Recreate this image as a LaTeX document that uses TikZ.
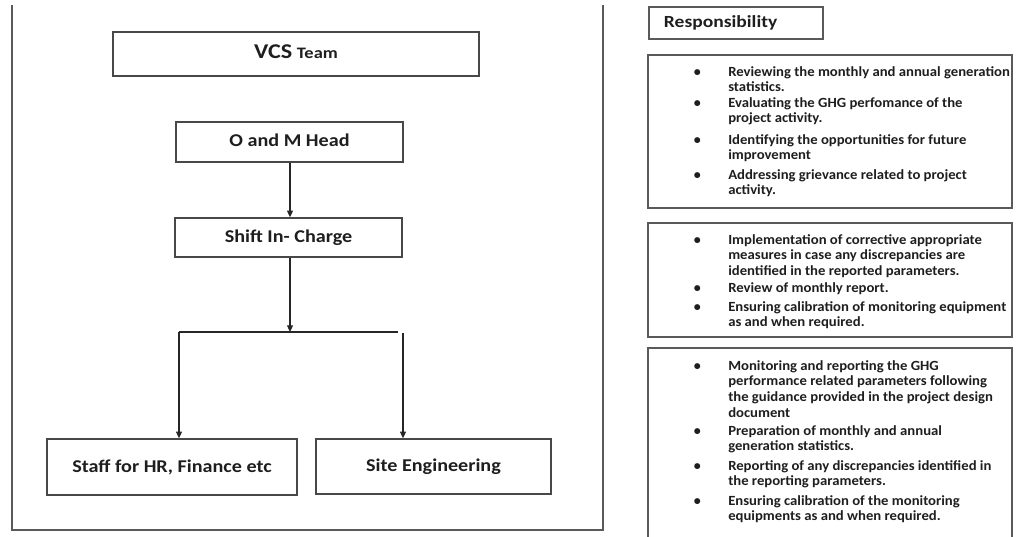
\documentclass[tikz,border=0pt]{standalone}
\usepackage{fontspec}
\setmainfont{Carlito}
\usepackage{graphicx}
\usetikzlibrary{arrows.meta}
\definecolor{frm}{HTML}{5A5A5A}
\definecolor{bx}{HTML}{484848}
\definecolor{txt}{HTML}{1E1E1E}
\newcommand\Ln[1]{\hbox{\scalebox{1.05}[1]{#1}}}
\newcommand\Fl[1]{\hbox{\llap{\textbullet\hspace{20.6pt}}\scalebox{1.05}[1]{#1}}}
\newcommand\Sx[1]{\scalebox{1.12}[1]{#1}}
\begin{document}
\begin{tikzpicture}[x=0.75pt,y=-0.75pt,
  orgbox/.style={draw=bx,line width=1.1pt,inner sep=0pt,text=txt,
    font=\fontsize{13.5}{16}\selectfont\bfseries},
  frame/.style={draw=frm,line width=1.5pt},
  rbox/.style={draw=frm,line width=1.4pt},
  arr/.style={draw=black!85,line width=0.8pt,-{Triangle[width=4.5pt,length=5pt]}},
  conn/.style={draw=black!85,line width=0.8pt},
  item/.style={anchor=base west,inner sep=0pt,text=txt,
    font=\fontsize{10.5}{11.8}\selectfont\bfseries}]
\useasboundingbox (0,0) rectangle (1016,536);
% left frame
\draw[frame] (12,5) -- (12,530) -- (603,530) -- (603,5);
% org boxes
\node[orgbox,minimum width=366*0.75pt,minimum height=44*0.75pt] (vcs) at (296,54)
  {\raisebox{3pt}{\scalebox{1.15}[1]{{\fontsize{15.75}{18}\selectfont VCS} {\fontsize{12}{14}\selectfont Team}}}};
\node[orgbox,minimum width=227*0.75pt,minimum height=40*0.75pt] (om) at (289.5,142)
  {\raisebox{2pt}{\Sx{O and M Head}}};
\node[orgbox,minimum width=227*0.75pt,minimum height=39*0.75pt] (shift) at (288.5,237.5)
  {\Sx{Shift In- Charge}};
\node[orgbox,minimum width=250*0.75pt,minimum height=56*0.75pt] (staff) at (172,467)
  {\Sx{Staff for HR, Finance etc}};
\node[orgbox,minimum width=235*0.75pt,minimum height=55*0.75pt] (site) at (433.5,466.5)
  {\raisebox{2pt}{\Sx{Site Engineering}}};
% connectors
\coordinate (j) at (290,332);
\coordinate (jl) at (179,332);
\coordinate (jr) at (398,332);
\coordinate (jr2) at (403,333);
\draw[arr] (om.south -| j) -- (shift.north -| j);
\draw[arr] (shift.south -| j) -- (j);
\draw[conn] (jl) -- (jr);
\draw[arr] (jl) -- (jl |- staff.north);
\draw[arr] (jr2) -- (jr2 |- site.north);
% right panel
\node[rbox,anchor=west,inner xsep=15*0.75pt,inner ysep=0pt,text width=144*0.75pt,
  align=left,minimum height=32*0.75pt,text=txt,
  font=\fontsize{12.75}{15}\selectfont\bfseries] (resp) at (648,23)
  {\scalebox{1.15}[1]{Responsibility}};
\draw[rbox] (648,55) rectangle (1012,208);
\draw[rbox] (648,223) rectangle (1012,337);
\draw[rbox] (648,545) -- (648,348) -- (1012,348) -- (1012,545);
% box 1
\node[item] (a1) at (728,76) {\vtop{\Fl{Reviewing the monthly and annual generation}\Ln{statistics.}}};
\node[item] (a2) at (728,107) {\vtop{\Fl{Evaluating the GHG perfomance of the}\Ln{project activity.}}};
\node[item] (a3) at (728,144) {\vtop{\Fl{Identifying the opportunities for future}\Ln{improvement}}};
\node[item] (a4) at (728,179) {\vtop{\Fl{Addressing grievance related to project}\Ln{activity.}}};
% box 2
\node[item] (b1) at (728,244) {\vtop{\Fl{Implementation of corrective appropriate}\Ln{measures in case any discrepancies are}\Ln{identified in the reported parameters.}}};
\node[item] (b2) at (728,292) {\vtop{\Fl{Review of monthly report.}}};
\node[item] (b3) at (728,311) {\vtop{\Fl{Ensuring calibration of monitoring equipment}\Ln{as and when required.}}};
% box 3
\node[item] (c1) at (728,370) {\vtop{\Fl{Monitoring and reporting the GHG}\Ln{performance related parameters following}\Ln{the guidance provided in the project design}\Ln{document}}};
\node[item] (c2) at (728,435) {\vtop{\Fl{Preparation of monthly and annual}\Ln{generation statistics.}}};
\node[item] (c3) at (728,470) {\vtop{\Fl{Reporting of any discrepancies identified in}\Ln{the reporting parameters.}}};
\node[item] (c4) at (728,505) {\vtop{\Fl{Ensuring calibration of the monitoring}\Ln{equipments as and when required.}}};
\end{tikzpicture}
\end{document}
